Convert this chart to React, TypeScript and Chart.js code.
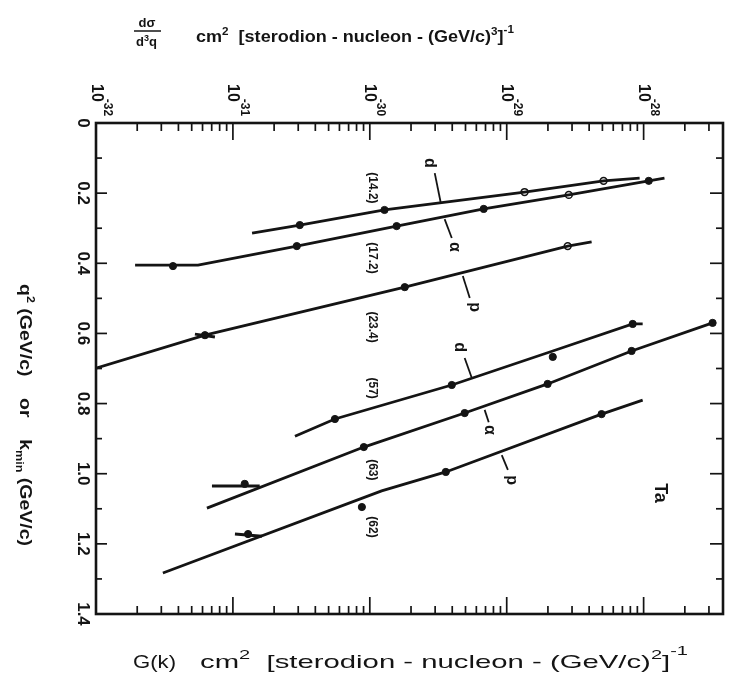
import React, { useEffect, useRef } from "react";
import { Chart, registerables } from "chart.js";

Chart.register(...registerables);

// ---------- axis ranges & tick labels ----------
const X_MIN = 1e-32;
const X_MAX = 3.8e-28;
const Y_MIN = 0;
const Y_MAX = 1.4;

const xDecadeValues = [1e-32, 1e-31, 1e-30, 1e-29, 1e-28];
const xDecadeExponents = ["-32", "-31", "-30", "-29", "-28"];
const yTickValues = [0, 0.2, 0.4, 0.6, 0.8, 1.0, 1.2, 1.4];
const yTickLabels = ["0", "0.2", "0.4", "0.6", "0.8", "1.0", "1.2", "1.4"];

// ---------- curves (x = cross section, y = q^2 or k_min) ----------
// (14.2) d
const d14LineG = [1.38e-31, 3.08e-31, 1.28e-30, 1.35e-29, 5.1e-29, 9.35e-29];
const d14LineQ = [0.314, 0.291, 0.248, 0.197, 0.165, 0.157];
// (17.2) alpha
const a17LineG = [1.93e-32, 5.56e-32, 2.93e-31, 1.57e-30, 6.79e-30, 2.84e-29, 1.09e-28, 1.42e-28];
const a17LineQ = [0.405, 0.405, 0.351, 0.294, 0.245, 0.205, 0.165, 0.157];
// (23.4) p
const p23LineG = [1e-32, 6.25e-32, 1.8e-30, 2.79e-29, 4.17e-29];
const p23LineQ = [0.699, 0.605, 0.468, 0.351, 0.339];
// (57) d
const d57LineG = [2.84e-31, 5.56e-31, 3.97e-30, 2.17e-29, 8.32e-29, 9.84e-29];
const d57LineQ = [0.893, 0.844, 0.747, 0.65, 0.573, 0.573];
// (63) alpha
const a63LineG = [6.46e-32, 9.04e-31, 4.93e-30, 1.99e-29, 8.17e-29, 3.19e-28];
const a63LineQ = [1.098, 0.924, 0.827, 0.744, 0.65, 0.57];
// (62) p
const p62LineG = [3.08e-32, 1.22e-30, 3.59e-30, 4.93e-29, 9.84e-29];
const p62LineQ = [1.283, 1.049, 0.995, 0.83, 0.79];

// filled data points
const filledG = [
  3.08e-31, 1.28e-30,
  3.65e-32, 2.93e-31, 1.57e-30, 6.79e-30, 1.09e-28,
  6.25e-32, 1.8e-30,
  5.56e-31, 3.97e-30, 2.17e-29, 8.32e-29,
  1.22e-31, 9.04e-31, 4.93e-30, 1.99e-29, 8.17e-29, 3.19e-28,
  1.29e-31, 8.75e-31, 3.59e-30, 4.93e-29,
];
const filledQ = [
  0.291, 0.248,
  0.408, 0.351, 0.294, 0.245, 0.165,
  0.605, 0.468,
  0.844, 0.747, 0.667, 0.573,
  1.029, 0.924, 0.827, 0.744, 0.65, 0.57,
  1.172, 1.095, 0.995, 0.83,
];
// open data points
const openG = [1.35e-29, 5.1e-29, 2.84e-29, 2.79e-29];
const openQ = [0.197, 0.165, 0.205, 0.351];

// limit bars (horizontal strokes through some low points)
const bar63G = [7.03e-32, 1.57e-31];
const bar63Q = [1.035, 1.035];
const bar62G = [1.035e-31, 1.63e-31];
const bar62Q = [1.172, 1.178];
const bar23G = [5.28e-32, 7.39e-32];
const bar23Q = [0.602, 0.61];

// curve energy labels
const curveLabels = ["(14.2)", "(17.2)", "(23.4)", "(57)", "(63)", "(62)"];
const curveLabelG = [1.035e-30, 1.035e-30, 1.035e-30, 1.035e-30, 1.035e-30, 1.035e-30];
const curveLabelQ = [0.185, 0.385, 0.582, 0.756, 0.989, 1.152];

// particle labels with leader lines
const partLabels = ["d", "α", "p", "d", "α", "p"];
const partLabelG = [2.74e-30, 4.17e-30, 5.83e-30, 4.54e-30, 7.52e-30, 1.09e-29];
const partLabelQ = [0.114, 0.353, 0.525, 0.639, 0.875, 1.018];
const leaderG0 = [2.98e-30, 3.52e-30, 4.78e-30, 4.93e-30, 6.9e-30, 9.2e-30];
const leaderQ0 = [0.143, 0.274, 0.436, 0.67, 0.818, 0.947];
const leaderG1 = [3.3e-30, 3.97e-30, 5.37e-30, 5.56e-30, 7.39e-30, 1.02e-29];
const leaderQ1 = [0.228, 0.328, 0.499, 0.727, 0.853, 0.989];

const targetLabel = "Ta";
const targetG = [1.31e-28];
const targetQ = [1.055];

const pts = (g: number[], q: number[]) => g.map((v, i) => ({ x: v, y: q[i] }));

const FAM = '"Liberation Sans", Arial, Helvetica, sans-serif';
const INK = "#141414";

type Run = { t: string; s: number; dy?: number };

function runsWidth(ctx: CanvasRenderingContext2D, runs: Run[], weight: string) {
  let w = 0;
  for (const r of runs) {
    ctx.font = `${weight} ${r.s}px ${FAM}`;
    w += ctx.measureText(r.t).width;
  }
  return w;
}

function drawRuns(
  ctx: CanvasRenderingContext2D,
  runs: Run[],
  x: number,
  y: number,
  weight: string,
  targetW?: number
) {
  const w = runsWidth(ctx, runs, weight);
  const sx = targetW ? targetW / w : 1;
  ctx.save();
  ctx.translate(x, y);
  ctx.scale(sx, 1);
  ctx.textAlign = "left";
  ctx.textBaseline = "alphabetic";
  let cx = 0;
  for (const r of runs) {
    ctx.font = `${weight} ${r.s}px ${FAM}`;
    ctx.fillText(r.t, cx, r.dy || 0);
    cx += ctx.measureText(r.t).width;
  }
  ctx.restore();
}

function rot(ctx: CanvasRenderingContext2D, x: number, y: number, fn: () => void) {
  ctx.save();
  ctx.translate(x, y);
  ctx.rotate(Math.PI / 2);
  fn();
  ctx.restore();
}

function seg(ctx: CanvasRenderingContext2D, x0: number, y0: number, x1: number, y1: number) {
  ctx.beginPath();
  ctx.moveTo(x0, y0);
  ctx.lineTo(x1, y1);
  ctx.stroke();
}

const decor = {
  id: "decor",
  afterDraw(chart: any) {
    const ctx: CanvasRenderingContext2D = chart.ctx;
    const { left, right, top, bottom } = chart.chartArea;
    const xs = chart.scales.x;
    const ys = chart.scales.y;
    const X = (v: number) => xs.getPixelForValue(v);
    const Y = (v: number) => ys.getPixelForValue(v);
    ctx.save();
    ctx.strokeStyle = INK;
    ctx.fillStyle = INK;
    ctx.lineCap = "butt";

    // frame
    ctx.lineWidth = 2.6;
    ctx.strokeRect(left, top, right - left, bottom - top);

    // x ticks (top & bottom, inward)
    ctx.lineWidth = 1.7;
    for (let e = -32; e <= -28; e++) {
      for (let k = 1; k <= 9; k++) {
        const v = k * Math.pow(10, e);
        if (v > X_MAX * 0.999) break;
        const px = X(v);
        const len = k === 1 ? 17 : 8;
        if (k === 1 && e === -32) continue;
        seg(ctx, px, top, px, top + len);
        seg(ctx, px, bottom, px, bottom - len);
      }
    }
    // y ticks (left & right, inward)
    for (let i = 1; i < 14; i++) {
      const py = Y(i / 10);
      const major = i % 2 === 0;
      seg(ctx, left, py, left + (major ? 11 : 6), py);
      seg(ctx, right, py, right - (major ? 13 : 7), py);
    }

    // y tick labels (rotated clockwise)
    yTickValues.forEach((v, i) => {
      rot(ctx, 83, Y(v), () => {
        ctx.font = `bold 17px ${FAM}`;
        ctx.textAlign = "center";
        ctx.textBaseline = "middle";
        ctx.fillText(yTickLabels[i], 0, 0);
      });
    });

    // top decade labels 10^-n (rotated)
    xDecadeValues.forEach((v, i) => {
      rot(ctx, X(v), 84, () => {
        ctx.font = `bold 16px ${FAM}`;
        ctx.textAlign = "left";
        ctx.textBaseline = "middle";
        ctx.fillText("10", 0, 0);
        const w = ctx.measureText("10").width;
        ctx.font = `bold 12px ${FAM}`;
        ctx.fillText(xDecadeExponents[i], w - 3, -11);
      });
    });

    // y axis title
    rot(ctx, 20, 284, () => {
      drawRuns(
        ctx,
        [
          { t: "q", s: 17 },
          { t: "2", s: 11, dy: -7 },
          { t: " (GeV/c)    or    k", s: 17 },
          { t: "min", s: 11, dy: 4 },
          { t: " (GeV/c)", s: 17 },
        ],
        0,
        0,
        "bold",
        262
      );
    });

    // top title
    ctx.font = `bold 13px ${FAM}`;
    ctx.textAlign = "center";
    ctx.textBaseline = "alphabetic";
    ctx.fillText("dσ", 147, 27);
    ctx.lineWidth = 1.5;
    seg(ctx, 134, 31, 161, 31);
    drawRuns(
      ctx,
      [
        { t: "d", s: 13 },
        { t: "3", s: 9, dy: -5 },
        { t: "q", s: 13 },
      ],
      136,
      46,
      "bold"
    );
    drawRuns(
      ctx,
      [
        { t: "cm", s: 17 },
        { t: "2", s: 11, dy: -7 },
        { t: "  [sterodion - nucleon - (GeV/c)", s: 17 },
        { t: "3", s: 11, dy: -7 },
        { t: "]", s: 17 },
        { t: "-1", s: 11, dy: -9 },
      ],
      196,
      42,
      "bold",
      318
    );

    // bottom title
    drawRuns(ctx, [{ t: "G(k)", s: 19 }], 133, 668, "normal", 43);
    drawRuns(
      ctx,
      [
        { t: "cm", s: 19 },
        { t: "2", s: 13, dy: -9 },
        { t: "  [sterodion - nucleon - (GeV/c)", s: 19 },
        { t: "2", s: 13, dy: -9 },
        { t: "]", s: 19 },
        { t: "-1", s: 13, dy: -13 },
      ],
      200,
      668,
      "normal",
      488
    );

    // curve labels
    curveLabels.forEach((t, i) => {
      rot(ctx, X(curveLabelG[i]), Y(curveLabelQ[i]), () => {
        ctx.font = `bold 12px ${FAM}`;
        ctx.textAlign = "center";
        ctx.textBaseline = "middle";
        ctx.fillText(t, 0, 0);
      });
    });

    // particle labels + leaders
    ctx.lineWidth = 1.8;
    partLabels.forEach((t, i) => {
      seg(ctx, X(leaderG0[i]), Y(leaderQ0[i]), X(leaderG1[i]), Y(leaderQ1[i]));
      rot(ctx, X(partLabelG[i]), Y(partLabelQ[i]), () => {
        ctx.font = `bold 16px ${FAM}`;
        ctx.textAlign = "center";
        ctx.textBaseline = "middle";
        ctx.fillText(t, 0, 0);
      });
    });

    // target
    rot(ctx, X(targetG[0]), Y(targetQ[0]), () => {
      ctx.font = `bold 18px ${FAM}`;
      ctx.textAlign = "center";
      ctx.textBaseline = "middle";
      ctx.fillText(targetLabel, 0, 0);
    });

    ctx.restore();
  },
};

export default function App() {
  const ref = useRef<HTMLCanvasElement | null>(null);
  useEffect(() => {
    if (!ref.current) return;
    const lineDs = (g: number[], q: number[], w = 2.8) => ({
      data: pts(g, q),
      showLine: true,
      borderColor: INK,
      borderWidth: w,
      pointRadius: 0,
      tension: 0,
      fill: false,
    });
    const chart = new Chart(ref.current, {
      type: "scatter",
      data: {
        datasets: [
          lineDs(d14LineG, d14LineQ),
          lineDs(a17LineG, a17LineQ),
          lineDs(p23LineG, p23LineQ),
          lineDs(d57LineG, d57LineQ),
          lineDs(a63LineG, a63LineQ),
          lineDs(p62LineG, p62LineQ),
          lineDs(bar63G, bar63Q, 3),
          lineDs(bar62G, bar62Q, 3),
          lineDs(bar23G, bar23Q, 3),
          {
            data: pts(filledG, filledQ),
            pointRadius: 3.6,
            pointBackgroundColor: INK,
            pointBorderColor: INK,
            pointBorderWidth: 1,
            showLine: false,
          } as any,
          {
            data: pts(openG, openQ),
            pointRadius: 3.4,
            pointBackgroundColor: "#ffffff",
            pointBorderColor: INK,
            pointBorderWidth: 1.6,
            showLine: false,
          } as any,
        ],
      },
      options: {
        animation: false,
        responsive: false,
        maintainAspectRatio: false,
        events: [],
        layout: { padding: { left: 96, top: 123, right: 10, bottom: 70 } },
        plugins: {
          legend: { display: false },
          tooltip: { enabled: false },
          title: { display: false },
        },
        scales: {
          x: { type: "logarithmic", min: X_MIN, max: X_MAX, display: false },
          y: { type: "linear", min: Y_MIN, max: Y_MAX, reverse: true, display: false },
        },
      } as any,
      plugins: [decor],
    });
    return () => chart.destroy();
  }, []);
  return (
    <div style={{ position: "absolute", left: 0, top: 0, width: 733, height: 684, background: "#fff" }}>
      <canvas ref={ref} width={733} height={684} style={{ display: "block" }} />
    </div>
  );
}
